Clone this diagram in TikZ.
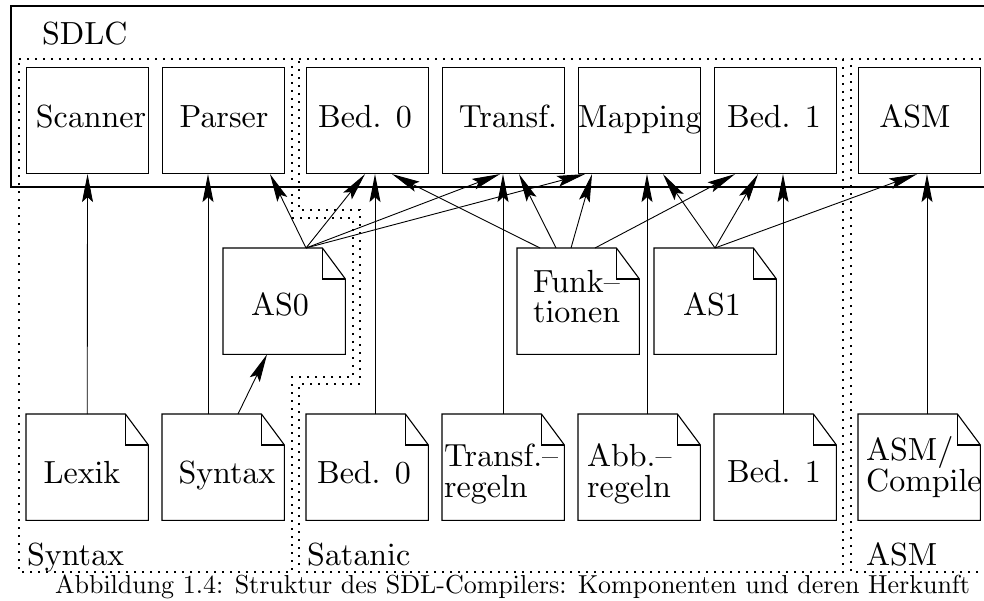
\documentclass[tikz,border=0pt]{standalone}
\usetikzlibrary{arrows.meta}
\font\cmbig=cmr10 at 32pt
\font\cmcap=cmr10 at 26pt
\newcommand\bigtext{\cmbig\baselineskip=31pt\setbox\strutbox\hbox{\vrule height 22pt depth 9pt width 0pt}}
\tikzset{
  box/.style={draw, line width=1.1pt, minimum width=122pt, minimum height=106pt, inner sep=0pt, anchor=north west},
  docbox/.style={minimum width=122pt, minimum height=106pt, inner sep=0pt, anchor=north west},
  lbl/.style={font=\bigtext, inner sep=0pt},
  arr/.style={-{Stealth[length=28pt,width=11pt,inset=5pt]}, line width=0.9pt},
  region/.style={line width=1.2pt, dash pattern=on 1.6pt off 6.4pt},
  outer/.style={line width=1.3pt},
  boxline/.style={line width=1.1pt, line join=miter},
}
\newcommand\docframe[1]{%
  \draw[boxline] (#1.north west) -- ([xshift=-23pt]#1.north east) -- ([yshift=-31pt]#1.north east) -- (#1.south east) -- (#1.south west) -- cycle;
  \draw[boxline] ([xshift=-23pt]#1.north east) -- ([xshift=-23pt,yshift=-31pt]#1.north east) -- ([yshift=-31pt]#1.north east);}
\begin{document}
\begin{tikzpicture}[x=1pt,y=-1pt]
\useasboundingbox (0,0) rectangle (984,601);
\fill[white] (0,0) rectangle (984,601);
\clip (0,0) rectangle (984,601);

% regions
\draw[region] (19,59) -- (292,59) -- (292,218) -- (353,218) -- (353,377) -- (292,377) -- (292,572) -- (19,572) -- cycle;
\draw[region] (299,59) -- (843,59) -- (843,572) -- (299,572) -- (299,384) -- (360,384) -- (360,210) -- (299,210) -- cycle;
\draw[region] (851,59) -- (1010,59) -- (1010,572) -- (851,572) -- cycle;

% SDLC outer box
\draw[outer] (11,6) rectangle (1010,187);
\node[lbl, anchor=base west] (sdlc) at (42,45) {SDLC};

% region labels
\node[lbl, anchor=base west] (rsyn) at (27,565) {Syntax};
\node[lbl, anchor=base west] (rsat) at (307,565) {Satanic};
\node[lbl, anchor=base west] (rasm) at (866,565) {ASM};

% top component boxes
\node[box] (scan) at (26,67) {};
\node[box] (pars) at (162,67) {};
\node[box] (bedA) at (306,67) {};
\node[box] (trf)  at (442,67) {};
\node[box] (map)  at (578,67) {};
\node[box] (bedB) at (714,67) {};
\node[box] (asm)  at (858,67) {};
\node[lbl, anchor=base] (tscan) at (91,128) {Scanner};
\node[lbl, anchor=base] (tpars) at (224,128) {Parser};
\node[lbl, anchor=base] (tbedA) at (365,128) {Bed. 0};
\node[lbl, anchor=base] (ttrf)  at (508,128) {Transf.};
\node[lbl, anchor=base] (tmap)  at (640,128) {Mapping};
\node[lbl, anchor=base] (tbedB) at (774,128) {Bed. 1};
\node[lbl, anchor=base] (tasm)  at (915,128) {ASM};

% middle documents
\node[docbox] (as0)  at (223,248) {};
\node[docbox] (funk) at (517,248) {};
\node[docbox] (as1)  at (654,248) {};
\docframe{as0}\docframe{funk}\docframe{as1}
\node[lbl, anchor=base] (tas0) at (280,316) {AS0};
\node[lbl, anchor=base west] (tfunk) at (533,292) {\begin{tabular}[t]{@{}l@{}}Funk--\\tionen\end{tabular}};
\node[lbl, anchor=base] (tas1) at (712,316) {AS1};

% bottom documents
\node[docbox] (lexd)  at (26,414) {};
\node[docbox] (synd)  at (162,414) {};
\node[docbox] (bedAd) at (306,414) {};
\node[docbox] (trfd)  at (442,414) {};
\node[docbox] (abbd)  at (578,414) {};
\node[docbox] (bedBd) at (714,414) {};
\node[docbox] (asmd)  at (858,414) {};
\docframe{lexd}\docframe{synd}\docframe{bedAd}\docframe{trfd}\docframe{abbd}\docframe{bedBd}\docframe{asmd}
\node[lbl, anchor=base] (tlex) at (82,483) {Lexik};
\node[lbl, anchor=base] (tsyn) at (227,483) {Syntax};
\node[lbl, anchor=base] (tbedAd) at (364,483) {Bed. 0};
\node[lbl, anchor=base west] (ttrfd) at (444,466) {\begin{tabular}[t]{@{}l@{}}Transf.--\\regeln\end{tabular}};
\node[lbl, anchor=base west] (tabbd) at (587,466) {\begin{tabular}[t]{@{}l@{}}Abb.--\\regeln\end{tabular}};
\node[lbl, anchor=base] (tbedBd) at (774,482) {Bed. 1};
\node[lbl, anchor=base west] (tasmd) at (866,460) {\begin{tabular}[t]{@{}l@{}}ASM/\\Compile\end{tabular}};

% vertical arrows from bottom documents
\draw[arr] (lexd.north) -- (scan.south);
\draw[arr] ([xshift=46pt]synd.north west) -- ([xshift=46pt]pars.south west);
\draw[arr] ([xshift=76pt]synd.north west) -- ([xshift=44pt]as0.south west);
\draw[arr] ([xshift=69pt]bedAd.north west) -- ([xshift=69pt]bedA.south west);
\draw[arr] ([xshift=61pt]trfd.north west) -- ([xshift=61pt]trf.south west);
\draw[arr] ([xshift=69pt]abbd.north west) -- ([xshift=69pt]map.south west);
\draw[arr] ([xshift=69pt]bedBd.north west) -- ([xshift=69pt]bedB.south west);
\draw[arr] ([xshift=69pt]asmd.north west) -- ([xshift=69pt]asm.south west);

% AS0
\coordinate (as0p) at ([xshift=83pt]as0.north west);
\draw[arr] (as0p) -- ([xshift=108pt]pars.south west);
\draw[arr] (as0p) -- ([xshift=59pt]bedA.south west);
\draw[arr] (as0p) -- ([xshift=58pt]trf.south west);
\draw[arr] (as0p) -- ([xshift=7pt]map.south west);

% Funktionen
\draw[arr] ([xshift=23pt]funk.north west) -- ([xshift=86pt]bedA.south west);
\draw[arr] ([xshift=39pt]funk.north west) -- ([xshift=77pt]trf.south west);
\draw[arr] ([xshift=54pt]funk.north west) -- ([xshift=14pt]map.south west);
\draw[arr] ([xshift=78pt]funk.north west) -- ([xshift=21pt]bedB.south west);

% AS1
\coordinate (as1p) at ([xshift=61pt]as1.north west);
\draw[arr] (as1p) -- ([xshift=85pt]map.south west);
\draw[arr] (as1p) -- ([xshift=44pt]bedB.south west);
\draw[arr] (as1p) -- ([xshift=59pt]asm.south west);

% caption
\node[inner sep=0pt, anchor=base, font=\cmcap] (cap) at (513,593) {Abbildung 1.4: Struktur des SDL-Compilers: Komponenten und deren Herkunft};
\end{tikzpicture}
\end{document}
